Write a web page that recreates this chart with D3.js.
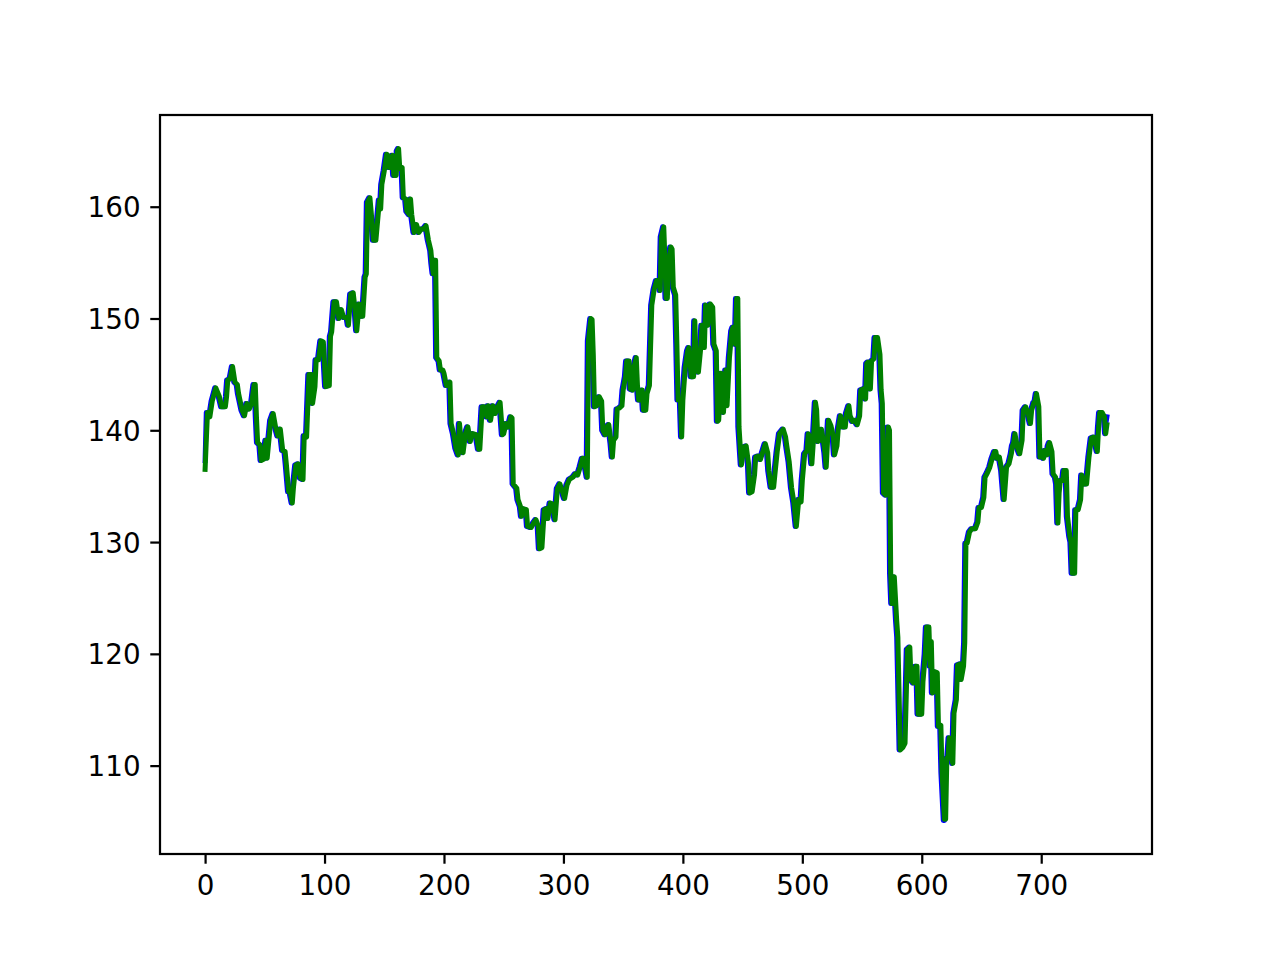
<!DOCTYPE html>
<html>
<head>
<meta charset="utf-8">
<script src="https://cdn.jsdelivr.net/npm/d3@7"></script>
<style>
  html, body { margin: 0; padding: 0; background: #ffffff; }
  svg { display: block; }
</style>
</head>
<body>
<svg id="chart" width="1280" height="960"></svg>
<script>
// ---- data: [step, value] vertices ----
const actualSeries = [[0,137.3],[1,141.6],[3,141.2],[5,142.6],[8,143.8],[11,143.0],[13,142.1],[16,142.1],[17,143.0],[18,144.5],[20,144.6],[22,145.7],[24,144.3],[26,144.1],[27,143.3],[28,142.8],[30,141.8],[32,141.3],[34,142.4],[36,141.9],[38,142.4],[40,144.1],[41,144.1],[42,141.2],[43,138.9],[45,138.7],[46,137.3],[48,137.4],[50,139.1],[51,137.5],[54,140.9],[56,141.5],[58,140.3],[60,139.5],[62,140.1],[64,138.2],[66,138.1],[67,137.0],[69,134.5],[70,134.6],[72,133.5],[73,134.9],[75,136.9],[77,137.0],[79,135.7],[81,135.6],[82,139.5],[84,139.4],[86,145.0],[88,145.0],[89,142.4],[91,143.9],[92,146.3],[94,146.3],[96,148.0],[98,147.9],[100,143.9],[103,144.0],[104,148.4],[105,148.8],[107,151.5],[109,151.5],[111,150.0],[113,150.8],[115,150.1],[118,150.1],[119,149.4],[121,152.2],[123,152.3],[125,150.4],[126,148.9],[128,151.3],[129,150.2],[131,150.2],[133,153.7],[134,154.0],[135,160.4],[137,160.8],[138,159.6],[140,157.0],[142,157.0],[143,158.2],[145,160.6],[146,159.8],[147,162.0],[149,163.2],[151,164.7],[152,164.6],[153,163.5],[155,163.5],[156,164.6],[157,162.8],[159,162.8],[160,165.0],[161,165.2],[162,163.4],[164,163.5],[165,160.8],[167,160.7],[168,159.6],[170,159.3],[171,160.7],[172,159.3],[174,157.7],[176,158.4],[178,157.7],[180,158.0],[182,158.0],[184,158.3],[186,157.0],[188,156.1],[189,154.9],[190,154.0],[191,155.2],[192,155.2],[193,146.5],[195,146.2],[196,145.4],[198,145.4],[199,145.1],[201,144.0],[204,144.3],[205,140.6],[207,139.7],[209,138.4],[211,137.8],[212,140.6],[214,138.1],[215,138.0],[217,139.7],[219,140.3],[221,139.0],[223,139.7],[226,139.6],[228,138.3],[229,138.3],[231,142.1],[233,142.1],[235,141.2],[236,142.2],[238,140.9],[240,142.2],[242,141.5],[244,142.1],[246,142.5],[248,139.6],[249,139.7],[251,140.6],[253,140.3],[255,141.2],[256,141.1],[257,135.2],[260,134.8],[261,133.8],[263,133.2],[264,132.3],[265,133.0],[268,132.9],[269,131.4],[272,131.3],[274,131.7],[276,132.0],[278,131.4],[279,129.4],[281,129.5],[283,132.9],[285,133.0],[286,132.1],[288,133.5],[290,133.4],[292,132.0],[294,134.8],[296,135.2],[298,134.6],[300,133.9],[302,135.1],[304,135.6],[307,135.8],[309,136.1],[311,136.0],[313,136.7],[315,137.5],[316,137.5],[318,136.4],[319,135.8],[320,148.0],[322,150.0],[323,149.9],[324,146.8],[325,142.1],[327,142.2],[329,143.0],[331,142.6],[332,140.0],[334,139.6],[336,140.4],[337,140.5],[339,138.8],[340,137.6],[341,139.1],[343,139.4],[344,141.9],[346,142.0],[348,142.2],[349,143.6],[351,144.8],[352,146.2],[354,146.2],[355,143.7],[357,143.6],[358,145.6],[360,146.5],[361,144.0],[362,142.7],[364,142.7],[365,143.6],[366,141.8],[368,141.8],[369,143.3],[371,144.0],[373,151.2],[375,152.6],[377,153.4],[379,153.4],[380,152.5],[381,157.3],[383,158.2],[384,155.2],[385,151.8],[386,151.8],[387,154.9],[389,156.4],[390,156.2],[391,152.8],[393,152.1],[394,147.7],[395,142.7],[397,142.7],[398,139.4],[399,142.7],[401,145.6],[403,147.1],[404,147.4],[406,144.8],[408,144.8],[409,149.8],[410,146.5],[412,145.2],[414,147.4],[415,149.4],[417,147.4],[418,151.2],[420,149.4],[422,151.3],[424,151.0],[425,147.7],[427,147.1],[428,140.8],[429,140.9],[431,145.1],[432,144.5],[433,141.6],[435,145.4],[436,142.2],[438,146.5],[440,148.9],[441,149.2],[443,147.7],[444,151.8],[445,151.8],[446,140.3],[448,136.9],[450,138.5],[452,138.6],[454,137.0],[455,134.4],[457,134.5],[459,136.0],[460,137.6],[462,137.7],[464,137.4],[466,138.1],[468,138.8],[470,138.0],[471,136.4],[473,134.9],[475,134.9],[476,136.0],[478,138.1],[480,139.7],[483,140.1],[485,139.4],[486,138.6],[488,137.2],[490,134.9],[492,133.5],[494,131.4],[496,133.8],[498,133.6],[499,135.5],[501,137.9],[503,138.2],[504,139.7],[505,139.4],[507,137.0],[508,138.6],[510,142.5],[511,141.8],[512,139.0],[514,139.1],[515,140.1],[517,138.8],[518,138.0],[519,136.7],[521,140.9],[523,140.4],[525,139.4],[526,137.8],[528,138.6],[529,140.0],[531,141.3],[533,140.3],[535,140.3],[536,141.5],[538,142.2],[539,141.3],[541,140.8],[543,140.9],[545,140.5],[547,141.3],[548,143.6],[550,143.7],[552,142.8],[553,146.0],[554,146.1],[556,143.7],[557,146.2],[559,146.4],[560,148.3],[562,148.3],[564,146.8],[565,143.6],[566,142.4],[567,134.4],[569,134.2],[571,140.3],[572,140.0],[573,127.2],[574,124.5],[575,124.5],[576,126.9],[578,123.0],[579,121.5],[581,111.4],[583,111.6],[585,112.0],[587,120.4],[589,120.6],[590,117.7],[592,117.4],[594,118.9],[595,118.9],[596,114.6],[599,114.6],[600,117.5],[602,120.0],[603,122.4],[605,122.4],[606,118.9],[607,121.1],[608,116.5],[609,116.6],[610,118.4],[612,118.3],[613,113.5],[615,113.6],[616,109.4],[618,105.1],[619,105.1],[620,110.7],[621,110.8],[622,112.5],[623,111.2],[625,110.2],[626,114.7],[628,115.9],[629,119.0],[631,119.1],[632,117.7],[634,118.9],[635,121.0],[636,129.9],[637,129.9],[639,130.9],[641,131.2],[644,131.2],[646,131.8],[647,133.1],[649,133.1],[651,134.0],[652,135.8],[654,136.2],[656,136.7],[658,137.5],[660,138.1],[661,138.1],[662,137.5],[664,137.6],[666,136.4],[668,133.8],[670,136.7],[672,137.0],[674,137.9],[675,138.6],[676,138.9],[677,139.7],[679,138.5],[681,137.9],[683,139.1],[684,141.8],[686,142.1],[688,141.5],[690,140.6],[691,141.8],[693,142.5],[694,142.6],[695,143.3],[697,142.1],[698,137.6],[699,137.8],[701,137.5],[702,138.2],[704,137.8],[705,138.6],[706,138.9],[708,138.1],[709,136.1],[711,135.8],[712,135.2],[713,131.7],[714,134.4],[715,135.5],[717,135.5],[718,136.4],[720,136.4],[721,132.3],[723,130.5],[724,130.0],[725,127.2],[727,127.2],[728,132.9],[730,132.9],[732,133.8],[733,136.0],[735,135.2],[737,135.2],[739,137.6],[741,139.3],[743,139.4],[744,139.0],[746,138.1],[747,140.2],[748,141.6],[750,141.6],[752,141.2],[753,139.7],[754,140.5],[755,141.2]];

const predictedSeries = [[0,136.5],[2,141.6],[4,141.2],[6,142.6],[9,143.8],[12,143.0],[14,142.1],[17,142.1],[18,143.0],[19,144.5],[21,144.6],[23,145.7],[25,144.3],[27,144.1],[28,143.3],[29,142.8],[31,141.8],[33,141.3],[35,142.4],[37,141.9],[39,142.4],[41,144.1],[42,144.1],[43,141.2],[44,138.9],[46,138.7],[47,137.3],[49,137.4],[51,139.1],[52,137.5],[55,140.9],[57,141.5],[59,140.3],[61,139.5],[63,140.1],[65,138.2],[67,138.1],[68,137.0],[70,134.5],[71,134.6],[73,133.5],[74,134.9],[76,136.9],[78,137.0],[80,135.7],[82,135.6],[83,139.5],[85,139.4],[87,145.0],[89,145.0],[90,142.4],[92,143.9],[93,146.3],[95,146.3],[97,148.0],[99,147.9],[101,143.9],[104,144.0],[105,148.4],[106,148.8],[108,151.5],[110,151.5],[112,150.0],[114,150.8],[116,150.1],[119,150.1],[120,149.4],[122,152.2],[124,152.3],[126,150.4],[127,148.9],[129,151.3],[130,150.2],[132,150.2],[134,153.7],[135,154.0],[136,160.4],[138,160.8],[139,159.6],[141,157.0],[143,157.0],[144,158.2],[146,160.6],[147,159.8],[148,162.0],[150,163.2],[152,164.7],[153,164.6],[154,163.5],[156,163.5],[157,164.6],[158,162.8],[160,162.8],[161,165.0],[162,165.2],[163,163.4],[165,163.5],[166,160.8],[168,160.7],[169,159.6],[171,159.3],[172,160.7],[173,159.3],[175,157.7],[177,158.4],[179,157.7],[181,158.0],[183,158.0],[185,158.3],[187,157.0],[189,156.1],[190,154.9],[191,154.0],[192,155.2],[193,155.2],[194,146.5],[196,146.2],[197,145.4],[199,145.4],[200,145.1],[202,144.0],[205,144.3],[206,140.6],[208,139.7],[210,138.4],[212,137.8],[213,140.6],[215,138.1],[216,138.0],[218,139.7],[220,140.3],[222,139.0],[224,139.7],[227,139.6],[229,138.3],[230,138.3],[232,142.1],[234,142.1],[236,141.2],[237,142.2],[239,140.9],[241,142.2],[243,141.5],[245,142.1],[247,142.5],[249,139.6],[250,139.7],[252,140.6],[254,140.3],[256,141.2],[257,141.1],[258,135.2],[261,134.8],[262,133.8],[264,133.2],[265,132.3],[266,133.0],[269,132.9],[270,131.4],[273,131.3],[275,131.7],[277,132.0],[279,131.4],[280,129.4],[282,129.5],[284,132.9],[286,133.0],[287,132.1],[289,133.5],[291,133.4],[293,132.0],[295,134.8],[297,135.2],[299,134.6],[301,133.9],[303,135.1],[305,135.6],[308,135.8],[310,136.1],[312,136.0],[314,136.7],[316,137.5],[317,137.5],[319,136.4],[320,135.8],[321,148.0],[323,150.0],[324,149.9],[325,146.8],[326,142.1],[328,142.2],[330,143.0],[332,142.6],[333,140.0],[335,139.6],[337,140.4],[338,140.5],[340,138.8],[341,137.6],[342,139.1],[344,139.4],[345,141.9],[347,142.0],[349,142.2],[350,143.6],[352,144.8],[353,146.2],[355,146.2],[356,143.7],[358,143.6],[359,145.6],[361,146.5],[362,144.0],[363,142.7],[365,142.7],[366,143.6],[367,141.8],[369,141.8],[370,143.3],[372,144.0],[374,151.2],[376,152.6],[378,153.4],[380,153.4],[381,152.5],[382,157.3],[384,158.2],[385,155.2],[386,151.8],[387,151.8],[388,154.9],[390,156.4],[391,156.2],[392,152.8],[394,152.1],[395,147.7],[396,142.7],[398,142.7],[399,139.4],[400,142.7],[402,145.6],[404,147.1],[405,147.4],[407,144.8],[409,144.8],[410,149.8],[411,146.5],[413,145.2],[415,147.4],[416,149.4],[418,147.4],[419,151.2],[421,149.4],[423,151.3],[425,151.0],[426,147.7],[428,147.1],[429,140.8],[430,140.9],[432,145.1],[433,144.5],[434,141.6],[436,145.4],[437,142.2],[439,146.5],[441,148.9],[442,149.2],[444,147.7],[445,151.8],[446,151.8],[447,140.3],[449,136.9],[451,138.5],[453,138.6],[455,137.0],[456,134.4],[458,134.5],[460,136.0],[461,137.6],[463,137.7],[465,137.4],[467,138.1],[469,138.8],[471,138.0],[472,136.4],[474,134.9],[476,134.9],[477,136.0],[479,138.1],[481,139.7],[484,140.1],[486,139.4],[487,138.6],[489,137.2],[491,134.9],[493,133.5],[495,131.4],[497,133.8],[499,133.6],[500,135.5],[502,137.9],[504,138.2],[505,139.7],[506,139.4],[508,137.0],[509,138.6],[511,142.5],[512,141.8],[513,139.0],[515,139.1],[516,140.1],[518,138.8],[519,138.0],[520,136.7],[522,140.9],[524,140.4],[526,139.4],[527,137.8],[529,138.6],[530,140.0],[532,141.3],[534,140.3],[536,140.3],[537,141.5],[539,142.2],[540,141.3],[542,140.8],[544,140.9],[546,140.5],[548,141.3],[549,143.6],[551,143.7],[553,142.8],[554,146.0],[555,146.1],[557,143.7],[558,146.2],[560,146.4],[561,148.3],[563,148.3],[565,146.8],[566,143.6],[567,142.4],[568,134.4],[570,134.2],[572,140.3],[573,140.0],[574,127.2],[575,124.5],[576,124.5],[577,126.9],[579,123.0],[580,121.5],[582,111.4],[584,111.6],[586,112.0],[588,120.4],[590,120.6],[591,117.7],[593,117.4],[595,118.9],[596,118.9],[597,114.6],[600,114.6],[601,117.5],[603,120.0],[604,122.4],[606,122.4],[607,118.9],[608,121.1],[609,116.5],[610,116.6],[611,118.4],[613,118.3],[614,113.5],[616,113.6],[617,109.4],[619,105.2],[620,105.2],[621,110.7],[622,110.8],[623,112.5],[624,111.2],[626,110.2],[627,114.7],[629,115.9],[630,119.0],[632,119.1],[633,117.7],[635,118.9],[636,121.0],[637,129.9],[638,129.9],[640,130.9],[642,131.2],[645,131.2],[647,131.8],[648,133.1],[650,133.1],[652,134.0],[653,135.8],[655,136.2],[657,136.7],[659,137.5],[661,138.1],[662,138.1],[663,137.5],[665,137.6],[667,136.4],[669,133.8],[671,136.7],[673,137.0],[675,137.9],[676,138.6],[677,138.9],[678,139.7],[680,138.5],[682,137.9],[684,139.1],[685,141.8],[687,142.1],[689,141.5],[691,140.6],[692,141.8],[694,142.5],[695,142.6],[696,143.3],[698,142.1],[699,137.6],[700,137.8],[702,137.5],[703,138.2],[705,137.8],[706,138.6],[707,138.9],[709,138.1],[710,136.1],[712,135.8],[713,135.2],[714,131.7],[715,134.4],[716,135.5],[718,135.5],[719,136.4],[721,136.4],[722,132.3],[724,130.5],[725,130.0],[726,127.2],[728,127.2],[729,132.9],[731,132.9],[733,133.8],[734,136.0],[736,135.2],[738,135.2],[740,137.6],[742,139.3],[744,139.4],[745,139.0],[747,138.1],[748,140.2],[749,141.6],[751,141.6],[753,141.2],[754,139.7],[755,140.5]];

const xTicks = [0, 100, 200, 300, 400, 500, 600, 700];
const yTicks = [110, 120, 130, 140, 150, 160];

(function draw() {
  // ---- layout (matplotlib default subplot params on a 1280x960 canvas) ----
  const W = 1280, H = 960;
  const axLeft = 160, axRight = 1152, axTop = 115, axBottom = 854;
  const pt = 200 / 72;               // points -> pixels at 200 dpi
  const fontSize = 10 * pt;
  const tickLen = 3.5 * pt, tickPad = 3.5 * pt, axisW = 0.8 * pt;
  const lineW = 1.8 * pt;

  const svg = d3.select("#chart");
  svg.append("rect").attr("width", W).attr("height", H).attr("fill", "#ffffff");

  // domains with 5% margins (matplotlib autoscale)
  const both = actualSeries.concat(predictedSeries);
  const [sx0, sx1] = d3.extent(both, d => d[0]);
  const [vy0, vy1] = d3.extent(both, d => d[1]);
  const mx = (sx1 - sx0) * 0.05, my = (vy1 - vy0) * 0.05;

  const x = d3.scaleLinear().domain([sx0 - mx, sx1 + mx]).range([axLeft, axRight]);
  const y = d3.scaleLinear().domain([vy0 - my, vy1 + my]).range([axBottom, axTop]);

  svg.append("defs").append("clipPath").attr("id", "clip")
    .append("rect").attr("x", axLeft).attr("y", axTop)
    .attr("width", axRight - axLeft).attr("height", axBottom - axTop);

  const line = d3.line().x(d => x(d[0])).y(d => y(d[1]));

  const g = svg.append("g").attr("clip-path", "url(#clip)");
  g.append("path").datum(actualSeries)
    .attr("d", line).attr("fill", "none")
    .attr("stroke", "#0000ff").attr("stroke-width", lineW)
    .attr("stroke-linejoin", "round").attr("stroke-linecap", "square");
  g.append("path").datum(predictedSeries)
    .attr("d", line).attr("fill", "none")
    .attr("stroke", "#008000").attr("stroke-width", lineW)
    .attr("stroke-linejoin", "round").attr("stroke-linecap", "square");

  // ---- axes ----
  const font = "'DejaVu Sans', sans-serif";

  const xAxis = d3.axisBottom(x).tickValues(xTicks).tickFormat(d3.format("d"))
    .tickSizeInner(tickLen).tickSizeOuter(0).tickPadding(tickPad);
  const gx = svg.append("g").attr("transform", `translate(0,${axBottom})`).call(xAxis);
  gx.select(".domain").remove();
  gx.selectAll(".tick line").attr("stroke", "#000").attr("stroke-width", axisW);
  gx.selectAll(".tick text").attr("font-family", font).attr("font-size", fontSize)
    .attr("fill", "#000").attr("dy", "0.76em");

  const yAxis = d3.axisLeft(y).tickValues(yTicks).tickFormat(d3.format("d"))
    .tickSizeInner(tickLen).tickSizeOuter(0).tickPadding(tickPad);
  const gy = svg.append("g").attr("transform", `translate(${axLeft},0)`).call(yAxis);
  gy.select(".domain").remove();
  gy.selectAll(".tick line").attr("stroke", "#000").attr("stroke-width", axisW);
  gy.selectAll(".tick text").attr("font-family", font).attr("font-size", fontSize)
    .attr("fill", "#000").attr("dy", "0.36em");

  // spines
  svg.append("rect").attr("x", axLeft).attr("y", axTop)
    .attr("width", axRight - axLeft).attr("height", axBottom - axTop)
    .attr("fill", "none").attr("stroke", "#000").attr("stroke-width", axisW);
})();
</script>
</body>
</html>
